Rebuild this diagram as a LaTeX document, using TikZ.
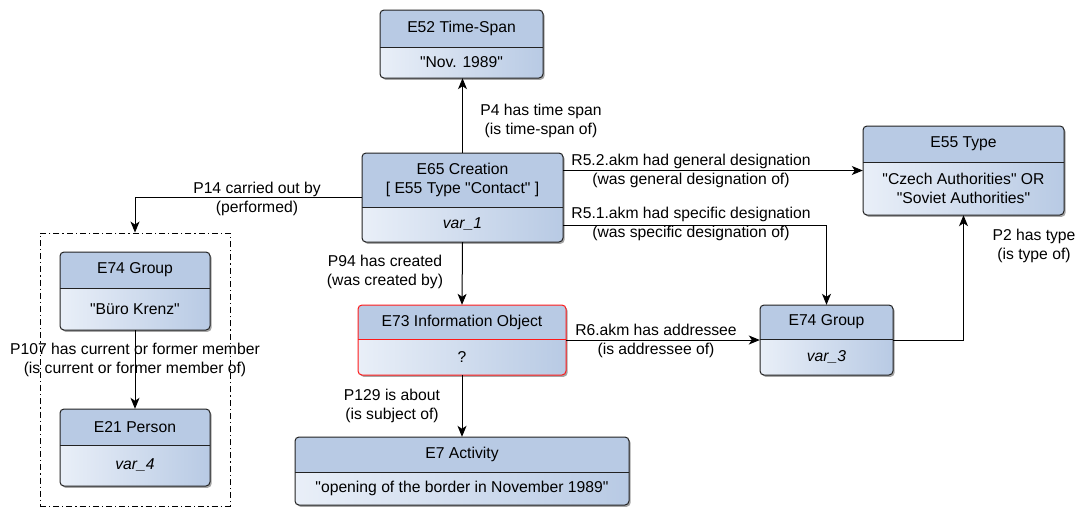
\documentclass[tikz,border=0pt]{standalone}
\usepackage{fontspec}
\setmainfont{Liberation Sans}[Ligatures=TeXOff]
\usetikzlibrary{arrows.meta,shadows,fit}
\definecolor{hdr}{HTML}{B8CAE4}
\definecolor{lo}{HTML}{E9EFF8}
\definecolor{bd}{HTML}{222222}
\definecolor{redbd}{HTML}{FF1A1A}
\newcommand\fs{\fontsize{15.7}{19.5}\selectfont}
\newcommand\dq{\char34\relax}
\tikzset{
  lbl/.style={align=center, inner sep=0pt, font=\fs},
  conn/.style={draw=black, line width=1pt, -{Stealth[length=11pt,width=9pt,inset=3pt]}},
  grpbox/.style={draw=black, line width=0.9pt, dash pattern=on 6pt off 3pt on 1.2pt off 3pt, inner sep=0pt},
}
\newcommand\crmbox[9]{%
  \path[fill=hdr, rounded corners=4pt, drop shadow={shadow xshift=1.6pt,shadow yshift=-1.8pt,opacity=.35,fill=black}] (#2,#3) rectangle (#4,#5);
  \begin{scope}
    \clip[rounded corners=4pt] (#2,#3) rectangle (#4,#5);
    \shade[left color=lo,right color=hdr] (#2,#6) rectangle (#4,#5);
  \end{scope}
  \draw[draw=#9, line width=1pt] (#2,#6) -- (#4,#6);
  \draw[draw=#9, line width=1pt, rounded corners=4pt] (#2,#3) rectangle (#4,#5);
  \node[inner sep=0pt, fit={(#2,#3) (#4,#5)}] (#1) {};
  \node[font=\fs, inner sep=0pt, align=center] (#1-t) at ({(#2+#4)/2},{(#3+#6)/2}) {#7};
  \node[font=\fs, inner sep=0pt, align=center] (#1-b) at ({(#2+#4)/2},{(#6+#5)/2}) {#8};
}
\begin{document}
\begin{tikzpicture}[x=1pt,y=-1pt]
\useasboundingbox[fill=white] (0,0) rectangle (1078,507);

% dashed group
\node[grpbox, fit={(40,233) (230,506)}] (grp) {};

% boxes
\crmbox{e52}{380}{10}{543}{78}{47}{E52 Time-Span}{"Nov. 1989"}{bd}
\crmbox{e65}{362}{153}{563}{242}{207}{E65 Creation\\ {[} E55 Type "Contact" {]}}{\itshape var\_1}{bd}
\crmbox{e55}{863}{126}{1064}{215}{162}{E55 Type}{"Czech Authorities" OR\\ "Soviet Authorities"}{bd}
\crmbox{e74l}{60}{252}{210}{330}{288}{E74 Group}{"Büro Krenz"}{bd}
\crmbox{e21}{60}{409}{210}{486}{445}{E21 Person}{\itshape var\_4}{bd}
\crmbox{e73}{358}{305}{566}{375}{339}{E73 Information Object}{?}{redbd}
\crmbox{e74r}{760}{305}{893}{375}{339}{E74 Group}{\itshape var\_3}{bd}
\crmbox{e7}{295}{437}{629}{505}{472}{E7 Activity}{"opening of the border in November 1989"}{bd}

% connectors
\draw[conn] (e65.north) -- (e65.north |- e52.south);
\draw[conn] (e65.west) -| (grp.north);
\draw[conn] (e65.east |- e55.west) -- (e55.west);
\coordinate (r51) at (563,225);
\draw[conn] (r51) -| (e74r.north);
\draw[conn] (e65.south) -- (e73.north);
\draw[conn] (e73.east) -- (e74r.west);
\draw[conn] (e74r.east) -| (e55.south);
\draw[conn] (e73.south) -- (e7.north);
\draw[conn] (e74l.south) -- (e21.north);

% labels
\node[lbl] (l4) at (541,121) {P4 has time span\\(is time-span of)};
\node[lbl] (l14) at (257,199) {P14 carried out by\\(performed)};
\node[lbl] (l52) at (691,171) {R5.2.akm had general designation\\(was general designation of)};
\node[lbl] (l51) at (691,224) {R5.1.akm had specific designation\\(was specific designation of)};
\node[lbl] (l94) at (385,272) {P94 has created\\(was created by)};
\node[lbl] (l6) at (656,341) {R6.akm has addressee\\(is addressee of)};
\node[lbl] (l2) at (1034,246) {P2 has type\\(is type of)};
\node[lbl] (l129) at (392,406) {P129 is about\\(is subject of)};
\node[lbl] (l107) at (135,360) {P107 has current or former member\\(is current or former member of)};
\end{tikzpicture}
\end{document}
